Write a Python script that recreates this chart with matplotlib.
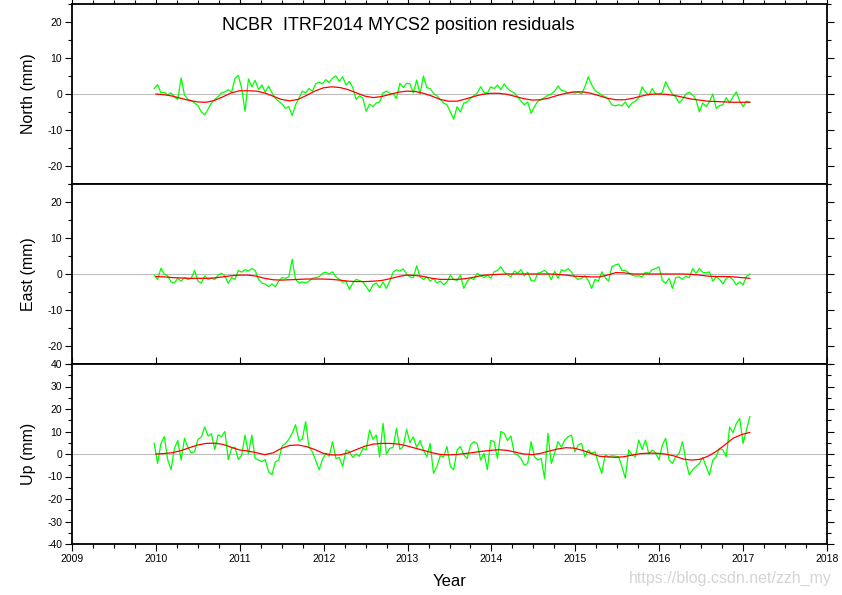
import numpy as np
import matplotlib.pyplot as plt
from matplotlib.ticker import MultipleLocator

plt.rcParams['font.family'] = ['Liberation Sans', 'DejaVu Sans']
plt.rcParams['axes.unicode_minus'] = False

# weekly-ish residuals (mm), one row per year, 2009.98 .. 2017.08
north = [
    1.5, 2.6, 0.3, 0.5, -0.2, 0.3, -0.8, -1.5, 4.5, -0.3, -1.5, -1.8, -2.5, -3.2, -5.0, -5.8, -4.2, -2.5, -1.5, -0.7, 0.3, 0.6, 1.2, 0.5, 4.3,
    5.2, 1.5, -4.8, 4.2, 2.0, 3.8, 1.2, 2.5, 0.5, 2.2, 0.3, -1.2, -2.0, -2.8, -4.0, -3.5, -6.0, -3.0, -1.2, 0.8, 0.3, 1.5, 0.8, 2.8, 3.3,
    2.8, 4.0, 3.2, 4.4, 5.0, 3.5, 4.8, 2.5, 3.5, 1.8, -1.5, -0.5, -1.2, -4.8, -2.8, -3.5, -2.5, -2.2, 0.3, 0.8, 0.2, 0.0, -1.2, 3.0, 1.8,
    3.0, 2.8, 0.3, 3.9, 0.0, 5.0, 1.8, 1.5, 0.2, -0.5, -1.5, -2.5, -3.0, -5.0, -7.0, -3.5, -5.0, -2.5, -2.2, -1.2, -0.5, 0.3, 2.0, 0.5, 0.2,
    2.0, 1.5, 2.5, 1.2, 2.8, 1.5, 0.8, 0.3, -0.8, -2.0, -3.0, -2.2, -5.4, -3.5, -2.0, -1.5, -1.0, -0.3, 0.0, 0.8, 2.2, 1.0, 0.8, 0.3, 0.5,
    0.2, 0.6, 0.0, 2.0, 4.8, 2.5, 1.0, 0.3, -0.3, -0.8, -1.5, -3.0, -3.3, -3.0, -3.3, -2.2, -3.8, -2.5, -2.0, -1.0, 2.0, 0.5, -0.3, 1.5, 0.0,
    -0.2, 0.5, 3.4, 1.5, 0.0, -0.8, -2.5, -1.5, 0.0, 0.5, -0.3, -1.5, -5.0, -2.5, -3.5, -2.2, 0.0, -4.0, -3.2, -3.0, -1.0, -2.5, -0.8, 0.6, -2.0,
    -3.5, -2.0, -2.3,
]
east = [
    -0.3, -1.5, 1.6, 0.0, -0.5, -2.2, -2.5, -1.2, -2.0, -1.0, -1.5, -1.2, 1.0, -2.0, -2.5, -0.5, -1.5, -1.2, -1.5, -0.3, 0.2, -0.5, -2.6, -1.0, -1.5,
    1.0, 0.5, 1.2, 0.8, 1.5, 1.0, -1.5, -2.5, -2.8, -3.5, -2.8, -3.5, -2.0, -1.0, -1.2, -0.8, 4.1, -1.5, -2.5, -2.2, -2.5, -2.0, -1.2, -1.0, -0.8,
    0.2, 0.5, 0.0, 0.6, -0.8, -1.5, -2.3, -2.0, -4.3, -2.5, -1.5, -1.8, -2.2, -3.5, -4.9, -3.0, -2.5, -3.8, -2.2, -4.0, -2.0, 0.5, 1.2, 0.8, 1.4,
    0.0, -0.8, -1.0, 2.3, -0.8, -1.5, -0.8, -2.0, -1.2, -2.5, -2.0, -3.0, -2.2, -0.3, -1.5, -1.8, -0.3, -4.0, -2.0, -1.2, -1.5, 0.2, -0.5, -1.0, -0.3,
    -1.2, 0.6, 1.0, 2.0, 0.5, -0.2, -0.8, 0.8, 0.3, 1.2, -0.5, 0.5, -1.8, -2.0, 0.2, 0.5, 1.0, 0.2, -1.6, 0.8, -1.2, 1.2, 0.8, 1.5, 0.5,
    -0.8, -1.5, -1.2, -0.5, -1.8, -4.0, -1.5, -2.0, 0.6, -1.0, -2.0, 2.0, 2.5, 2.8, 1.0, 1.0, 0.3, -0.3, -0.6, -0.5, -0.8, 0.5, 0.2, 1.2, 1.5,
    2.0, -1.8, -2.6, -1.2, -4.0, -1.0, -0.8, -1.5, -0.6, -1.0, 1.5, 0.2, 1.5, 0.5, 0.3, 0.6, -2.0, -0.8, -1.5, -2.8, -1.2, -0.8, -1.6, -3.0, -2.2,
    -3.0, -0.7, 0.0,
]
up = [
    4.7, -4.2, 4.7, 7.7, -2.5, -7.0, 2.5, 6.0, -2.7, 7.0, 3.0, 0.5, 1.0, 6.5, 7.5, 12.0, 8.0, 9.0, 2.0, 8.5, 7.7, 10.0, -2.5, 2.5, 3.0,
    -2.5, -0.5, 8.4, 0.0, 8.4, -2.0, -2.7, -3.4, -2.5, -8.0, -9.2, -3.5, -2.7, 3.5, 4.7, 6.5, 9.2, 13.0, 6.0, 6.5, 14.4, 3.0, 1.0, -3.0, -7.0,
    -2.5, 0.3, -1.0, 5.5, -2.0, -1.5, -5.6, 1.8, 1.0, -1.5, 0.0, -1.0, 2.5, 1.8, 10.7, 6.5, 8.4, -1.2, 13.6, 0.0, 2.5, 3.0, 11.4, 2.0, 3.3,
    11.0, 5.0, 7.7, 3.0, 6.0, 1.8, -1.2, 4.7, -8.6, -5.6, -0.8, -1.2, 3.3, -5.6, -7.0, 1.8, 3.3, -0.4, -2.0, 4.0, 5.5, 4.5, -2.7, 0.3, -7.0,
    6.0, 5.5, -2.0, 10.0, 9.2, 6.0, 8.0, 0.3, -0.4, -2.0, -5.0, -4.2, 5.5, -1.2, -2.7, -2.0, -10.8, 9.2, -4.2, 0.3, 5.5, 3.0, 6.2, 7.7, 8.4,
    1.0, 4.0, 4.7, -1.2, 1.8, 0.3, 1.0, -4.2, -8.6, -0.4, -1.2, -0.8, -1.0, -1.2, -5.6, -10.8, 1.8, -0.4, -1.2, 6.2, 2.0, 6.2, 0.0, 1.8, 0.5,
    -2.7, 4.0, 7.0, -2.7, -4.2, -1.2, 0.3, 5.5, -3.0, -9.3, -7.0, -5.5, -4.2, -1.5, -5.6, -9.3, -2.7, -1.2, 2.5, 1.8, -1.2, 12.0, 9.5, 13.6, 15.8,
    4.7, 10.7, 16.6,
]

# smoothed model (mm), every ~0.1 yr
north_fit = [
    0.0, -0.2, -0.6, -1.2, -1.8, -2.2, -2.3, -1.8, -0.8, 0.3,
    0.9, 0.9, 0.8, 0.3, -0.6, -1.5, -1.9, -1.5, -0.4, 0.8,
    1.7, 2.0, 1.8, 1.2, 0.3, -0.6, -1.0, -0.7, -0.1, 0.5,
    0.8, 0.7, 0.2, -0.6, -1.5, -2.0, -2.0, -1.4, -0.7, -0.1,
    0.2, 0.2, -0.1, -0.7, -1.3, -1.7, -1.6, -1.1, -0.4, 0.2,
    0.6, 0.6, 0.2, -0.5, -1.2, -1.6, -1.6, -1.2, -0.6, -0.1,
    0.0, -0.1, -0.4, -0.9, -1.4, -1.7, -2.0, -2.1, -2.2, -2.3,
    -2.3, -2.3,
]
east_fit = [
    -0.7, -0.8, -1.0, -1.1, -1.2, -1.2, -1.2, -1.1, -0.8, -0.5,
    -0.3, -0.3, -0.6, -1.2, -1.6, -1.7, -1.6, -1.5, -1.4, -1.4,
    -1.4, -1.5, -1.7, -2.0, -2.1, -2.1, -2.0, -1.8, -1.3, -0.7,
    -0.3, -0.4, -0.7, -1.2, -1.5, -1.5, -1.5, -1.3, -0.9, -0.4,
    -0.2, -0.1, 0.0, 0.0, 0.0, 0.0, 0.0, 0.0, -0.1, -0.3,
    -0.6, -0.7, -0.8, -0.8, -0.3, 0.4, 0.3, 0.0, 0.0, 0.0,
    0.0, 0.0, 0.0, 0.0, -0.1, -0.3, -0.6, -0.7, -0.7, -0.8,
    -1.0, -1.2,
]
up_fit = [
    0.0, 0.2, 0.6, 1.5, 2.8, 4.0, 4.7, 4.8, 4.3, 3.0,
    1.8, 1.3, 0.6, -0.3, 0.5, 2.5, 3.8, 4.0, 3.3, 2.0,
    0.3, -0.4, -0.4, 0.5, 2.0, 3.5, 4.4, 4.7, 4.7, 4.4,
    3.6, 2.6, 1.6, 0.6, -0.2, -0.4, -0.2, 0.2, 0.7, 1.2,
    1.6, 1.9, 1.6, 0.8, 0.0, -0.3, 0.3, 1.3, 2.2, 2.8,
    2.6, 1.6, 0.3, -1.0, -1.3, -1.5, -1.2, -0.4, 0.2, 0.4,
    0.3, -0.1, -0.9, -2.2, -2.7, -2.4, -1.0, 1.2, 4.0, 7.0,
    8.6, 9.6,
]

t = np.linspace(2009.98, 2017.08, len(north))
t_fit = np.linspace(2010.0, 2017.08, len(north_fit))

panels = [
    ('North (mm)', north, north_fit, 25, 10),
    ('East (mm)', east, east_fit, 25, 10),
    ('Up (mm)', up, up_fit, 40, 10),
]

fig = plt.figure(figsize=(8.42, 5.95), dpi=100)
left, width, h = 72 / 842, 755 / 842, 180 / 595
bottoms = [1 - 184 / 595, 1 - 364 / 595, 1 - 544 / 595]
ylab_y = [94, 274, 454]

for i, (lab, g, r, lim, step) in enumerate(panels):
    ax = fig.add_axes([left, bottoms[i], width, h])
    ax.axhline(0, color='#bdbdbd', lw=0.8, zorder=1)
    ax.plot(t, g, color='#00ff00', lw=0.9, zorder=2)
    ax.plot(t_fit, r, color='#ff0000', lw=0.9, zorder=3)
    ax.set_xlim(2009, 2018)
    ax.set_ylim(-lim, lim)
    ax.xaxis.set_major_locator(MultipleLocator(1))
    ax.xaxis.set_minor_locator(MultipleLocator(0.25))
    ax.yaxis.set_major_locator(MultipleLocator(step))
    ax.yaxis.set_minor_locator(MultipleLocator(step / 2))
    for s in ax.spines.values():
        s.set_linewidth(1.3)
    ax.tick_params(which='both', direction='out', labelsize=7.5, width=0.8,
                   left=True, right=True, top=(i != 1), bottom=(i == 2),
                   labelbottom=(i == 2), pad=2)
    ax.tick_params(which='major', length=5)
    ax.tick_params(which='minor', length=3)
    if i == 2:
        ax.tick_params(axis='x', which='minor', top=False)
    fig.text(28 / 842, 1 - ylab_y[i] / 595, lab, rotation=90, fontsize=11.5,
             ha='center', va='center')

fig.text(222 / 842, 1 - 26 / 595, 'NCBR  ITRF2014 MYCS2 position residuals',
         fontsize=13, ha='left', va='center')
fig.text(450 / 842, 1 - 581 / 595, 'Year', fontsize=12, ha='center', va='center')
fig.text(832 / 842, 1 - 578 / 595, 'https://blog.csdn.net/zzh_my', fontsize=11.5,
         color='#d4d4d4', ha='right', va='center')

fig.savefig('out.png', dpi=100)
